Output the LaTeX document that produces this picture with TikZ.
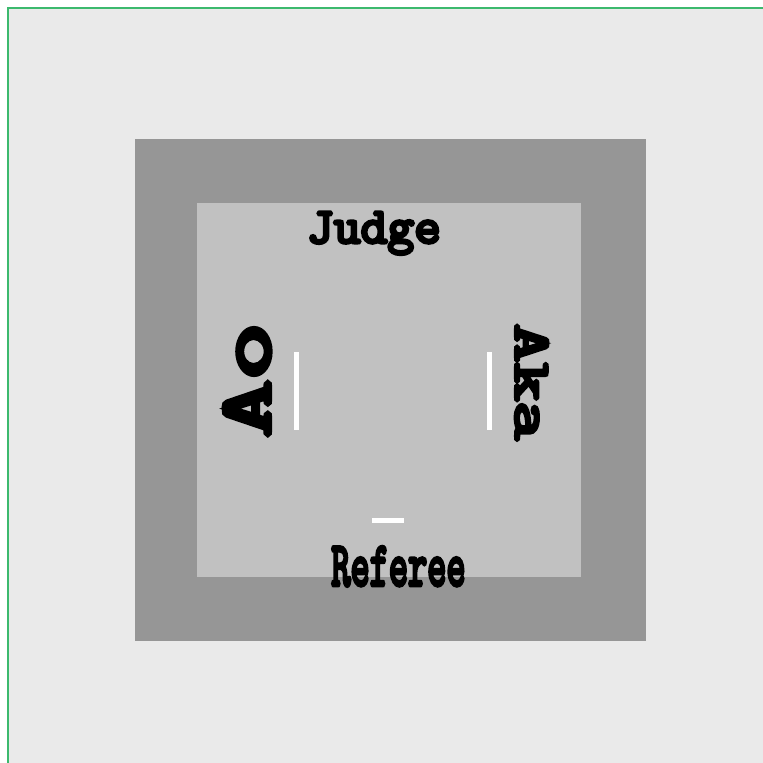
\documentclass[tikz,border=0pt]{standalone}
\usepackage{fontspec}
\usepackage{graphicx}
\newfontfamily\boldmono{lmmono10-regular}[Extension=.otf,FakeBold=6]
\definecolor{bgray}{RGB}{234,234,234}
\definecolor{outerg}{RGB}{150,150,150}
\definecolor{innerg}{RGB}{193,193,193}
\definecolor{edgegreen}{RGB}{60,185,110}
\begin{document}
\begin{tikzpicture}[x=1pt,y=-1pt,
  lbl/.style={inner sep=0pt,outer sep=0pt,anchor=base,text=black,font=\boldmono},
  mark line/.style={draw=white,line width=4.5pt}]
\useasboundingbox (0,0) rectangle (763,763);
\fill[white] (0,0) rectangle (763,763);
\fill[bgray] (8,8) rectangle (763,763);
\draw[edgegreen,line width=1.2pt] (8,763) -- (8,8) -- (763,8);
\fill[outerg] (135,139) rectangle (646,641);
\fill[innerg] (197,203) rectangle (581,577);
\coordinate (l1) at (296.5,352);
\coordinate (l2) at (296.5,430);
\coordinate (r1) at (489.3,352);
\coordinate (r2) at (489.3,430);
\coordinate (b1) at (372,520.7);
\coordinate (b2) at (404.3,520.7);
\draw[mark line] (l1) -- (l2);
\draw[mark line] (r1) -- (r2);
\draw[mark line] (b1) -- (b2);
\node[lbl] (judge) at (374,243) {\fontsize{51}{51}\selectfont Judge};
\node[lbl] (referee) at (398.5,585.5) {\scalebox{0.58}[1]{\fontsize{63}{63}\selectfont Referee}};
\node[lbl,rotate=90] (ao) at (270,380) {\scalebox{1.47}[1]{\fontsize{74}{74}\selectfont Ao}};
\node[lbl,rotate=-90] (aka) at (515.5,382) {\scalebox{1.42}[1]{\fontsize{52}{52}\selectfont Aka}};
\end{tikzpicture}
\end{document}
